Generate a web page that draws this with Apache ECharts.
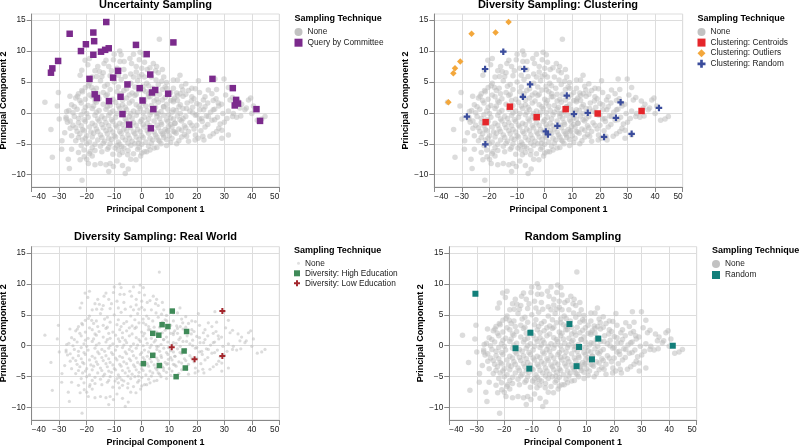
<!DOCTYPE html>
<html>
<head>
<meta charset="UTF-8">
<title>Sampling techniques</title>
<script src="https://cdn.jsdelivr.net/npm/echarts@6/dist/echarts.min.js"></script>
</head>
<body style="margin:0">
<div id="main" style="width:800px;height:447px;"></div>
<script type="text/javascript">
var xTicks = [-40, -30, -20, -10, 0, 10, 20, 30, 40, 50];
var yTicks = [-10, -5, 0, 5, 10, 15];

// all points of the data set (gray "None" layer, same in every panel)
var basePoints = [
  [-35.2,1.7],[-30.3,3.3],[-30.7,1.1],[-32.5,-7.2],[-29.1,-5.9],[-26.3,-9.0],[-26.7,-7.5],[-25.5,-5.9],
  [-26.1,2.7],[-27.3,0.2],[-27.5,-0.7],[-25.5,-3.7],[-23.4,2.7],[-21.8,3.6],[-21.7,-10.9],[-22.4,6.1],
  [-21.8,6.9],[-19.6,7.8],[-20.6,8.5],[-22.4,-7.6],[-20.9,-7.1],[-19.4,-8.2],[-18.8,-6.3],[-17.0,-8.4],
  [-13.0,-8.4],[-11.5,-8.2],[-10.3,-8.7],[-4.9,-9.1],[-5.1,-6.8],[-8.1,-6.8],[-7.3,-5.5],[-9.7,-5.7],
  [-2.1,-7.6],[-0.4,-7.0],[1.8,-6.3],[4.5,-5.7],[-1.2,-4.9],[6.4,11.9],[-0.6,9.8],[0.6,9.4],
  [-0.9,8.6],[-4.3,8.8],[-3.7,8.0],[-6.4,8.3],[-7.9,8.3],[-7.5,9.4],[-10.3,8.6],[-13.7,8.0],
  [-15.4,6.7],[-17.0,6.8],[-16.4,5.9],[-18.2,4.1],[-19.4,4.4],[5.4,7.5],[7.5,7.0],[4.2,8.0],
  [2.0,7.0],[11.5,5.3],[13.9,6.1],[20.6,5.2],[26.6,5.5],[29.9,5.5],[31.5,4.1],[27.2,3.8],
  [24.2,3.7],[27.8,1.6],[26.0,0.5],[24.2,-0.6],[28.5,-1.8],[29.1,-2.8],[27.2,-3.0],[31.5,-3.6],
  [29.1,-4.1],[24.8,-3.8],[22.6,-4.4],[22.2,-3.8],[19.4,-4.4],[16.3,-3.8],[12.7,-5.0],[33.3,-0.1],
  [35.7,0.8],[37.5,0.5],[38.8,2.1],[39.6,2.4],[40.6,1.1],[44.8,-0.6],[43.6,-1.0],[40.0,-0.1],
  [34.5,-0.7],[36.3,1.4],[32.1,2.1],[22.4,2.1],[20.0,1.5],[21.2,0.5],[18.2,2.6],[18.2,4.0],
  [14.9,3.7],[16.3,0.7],[20.0,-0.3],[21.8,-0.9],[18.2,-2.0],[13.9,-1.1],[14.5,-2.8],[11.5,-3.0],
  [9.7,-2.2],[12.1,-1.7],[7.2,-1.9],[7.9,-3.6],[6.0,-4.4],[9.1,-3.0],[9.7,-0.3],[11.5,0.5],
  [7.9,1.0],[5.4,-0.1],[11.5,2.1],[12.7,3.2],[11.5,4.0],[9.1,4.0],[7.2,5.1],[5.2,5.3],
  [1.8,4.8],[0.6,3.7],[2.4,2.6],[-14,6.5],[-11,6.8],[-9,7.2],[-16,7.5],[-19,8.8],
  [-13,8.5],[-10,9.5],[-8,10],[-3,9.5],[1,8.2],[3,7.3],[6,6.5],[8,5.8],
  [-1,5.9],[-4,6.3],[-2,6.6],[1,5.8],[-24,-4.5],[-26,-2.5],[-27,-1.5],[-20,-7.5],
  [-18,-7],[-15,-8.2],[-9,-7.8],[-7,-8.5],[-4,-7.5],[0,-6.5],[-6,-9.8],[-12,-9.5],
  [-33,-2.7],[-30,-1.0],[-29,-4.5],[-28,-3.2],[36,-0.5],[38,0.8],[42,-1.2],[33,2.5],
  [-19,4.8],[-15,5.2],[-12.5,4.6],[-10,5.0],[-7.5,5.4],[-4,4.8],[-1.5,5.2],[2.5,4.4],[6,4.6],[9,4.9],[13,5.3],[16,4.7],
  [-21.5,3.4],[-17.5,3.6],[-14,3.3],[-11.5,3.8],[-9,3.4],[-6.5,3.6],[-3.5,3.2],[-1,3.7],[1.5,3.4],[4.5,3.0],[7.5,3.8],[10.5,3.3],[14,3.1],[17,3.6],[21,3.3],
  [-24,2.4],[-20.5,2.2],[-18,2.6],[-15.5,2.3],[-13,2.8],[-10.5,2.2],[-8,2.6],[-5.5,2.4],[-2.5,2.8],[0,2.2],[3,2.6],[5.5,2.2],[8.5,2.5],[12,2.4],[15,2.7],[19,2.3],[23,2.6],[27,2.3],
  [-25.5,1.3],[-22,1.6],[-19.5,1.2],[-16.5,1.7],[-14,1.4],[-11.5,1.2],[-9.5,1.7],[-7,1.3],[-4.5,1.6],[-2,1.3],[0.5,1.6],[3.5,1.2],[6,1.7],[9,1.4],[11.5,1.8],[14,1.3],[16.5,1.6],[21,1.3],[24,1.6],[29,1.4],
  [-26.5,0.4],[-23.5,0.6],[-21,0.3],[-18,0.7],[-15.5,0.4],[-13,0.6],[-10.5,0.3],[-8,0.7],[-5.5,0.5],[-3,0.3],[-0.5,0.7],[2,0.4],[4.5,0.6],[7,0.2],[9.5,0.6],[12.5,0.4],[15,0.7],[17.5,0.3],[22.5,0.5],[26.5,0.6],[31.5,0.3],
  [-24.5,-0.6],[-22,-0.3],[-19.5,-0.7],[-17,-0.4],[-14.5,-0.6],[-12,-0.4],[-9.5,-0.7],[-7,-0.3],[-4.5,-0.6],[-2,-0.4],[1,-0.7],[3,-0.3],[5.5,-0.6],[8,-0.4],[10.5,-0.8],[13,-0.5],[16,-0.6],[19.5,-0.4],[23.5,-0.5],[27.5,-0.7],[33,-0.6],
  [-26,-1.3],[-23,-1.6],[-20.5,-1.4],[-18,-1.7],[-15.5,-1.3],[-13,-1.6],[-10.5,-1.4],[-8,-1.7],[-5.5,-1.3],[-3,-1.6],[-0.5,-1.4],[2,-1.7],[4.5,-1.3],[7,-1.6],[9.5,-1.4],[12,-1.7],[14.5,-1.3],[17.5,-1.6],[22,-1.4],[25.5,-1.2],[30,-1.5],
  [-24,-2.4],[-21.5,-2.7],[-19,-2.3],[-16.5,-2.6],[-14,-2.4],[-11.5,-2.7],[-9,-2.3],[-6.5,-2.6],[-4,-2.4],[-1.5,-2.7],[1,-2.3],[3.5,-2.6],[6,-2.4],[8.5,-2.7],[11,-2.3],[13.5,-2.6],[16,-2.4],[19,-2.6],[23,-2.3],[28,-2.5],
  [-22.5,-3.4],[-20,-3.7],[-17.5,-3.3],[-15,-3.6],[-12.5,-3.4],[-10,-3.7],[-7.5,-3.3],[-5,-3.6],[-2.5,-3.4],[0,-3.7],[2.5,-3.3],[5,-3.6],[7.5,-3.4],[10,-3.7],[12.5,-3.3],[15.5,-3.5],[19.5,-3.6],[26,-3.4],
  [-21.5,-4.4],[-19,-4.7],[-16,-4.4],[-13.5,-4.6],[-11,-4.3],[-8.5,-4.7],[-6,-4.4],[-3.5,-4.6],[-1,-4.3],[1.5,-4.7],[4,-4.4],[6.5,-4.6],[9,-4.3],[13.5,-4.5],[17,-4.6],
  [-22,-5.3],[-18,-5.6],[-15,-5.4],[-12,-5.6],[-9,-5.3],[-6.5,-5.7],[-4,-5.3],[-1,-5.6],[2.5,-5.4],[5.5,-5.6],[9,-5.3],
  [-23,-6.4],[-19,-6.6],[-14.5,-6.3],[-10.5,-6.7],[-7,-6.4],[-3,-6.6],[1,-6.3],
  [-20.5,4.1],[-16.5,4.0],[-13.5,4.3],[-8.5,4.2],[-5.5,3.9],[-2.5,4.2],[0.5,4.3],[4,4.0],[8.5,4.2],[14.5,4.3],[19.5,3.9],
  [-23,3.1],[-19,2.9],[-16,3.1],[-12.5,3.0],[-7.5,3.1],[-4.5,2.9],[-2,3.0],[2.5,3.1],[6.5,3.0],[9.5,2.9],[13,2.8],[16,3.0],[25.5,3.1],[30.5,2.9],
  [-22.5,2.0],[-17,1.9],[-12,2.0],[-7,2.1],[-3.5,1.9],[1,2.0],[4.5,1.9],[7.5,2.1],[10.5,2.0],[13,2.0],[18,1.9],[26,2.0],[35,1.9],
  [-24.5,1.0],[-20.5,0.9],[-17.5,1.1],[-12.5,1.0],[-8.5,1.1],[-6,0.9],[-1,1.0],[1.5,1.1],[5,0.9],[8,1.0],[13.5,1.0],[18.5,0.9],[23,1.0],[28,1.1],
  [-25,0.0],[-20,-0.1],[-16.5,0.1],[-11.5,0.0],[-9,-0.1],[-6.5,0.1],[-4,-0.1],[-1.5,0.1],[0.5,0.0],[3.5,0.1],[6,-0.1],[11,0.1],[14,-0.1],[18.5,0.0],[25,0.1],[29.5,-0.1],
  [-27.5,-1.0],[-23,-0.9],[-21,-1.1],[-16,-1.0],[-13.5,-0.9],[-11,-1.1],[-6,-1.0],[-3.5,-0.9],[0,-1.1],[2.5,-1.0],[6.5,-0.9],[9,-1.1],[11.5,-1.0],[15,-0.9],[21,-1.0],[26.5,-1.1],[31,-0.9],
  [-25,-2.0],[-22,-2.1],[-17,-2.0],[-14.5,-1.9],[-12,-2.1],[-9.5,-2.0],[-7,-1.9],[-4.5,-2.1],[-2,-2.0],[0.5,-1.9],[3,-2.1],[5.5,-2.0],[10.5,-1.9],[15.5,-2.1],[20,-2.0],[24,-1.9],
  [-23.5,-3.0],[-21,-2.9],[-18.5,-3.1],[-16,-3.0],[-13,-2.9],[-10.5,-3.1],[-8,-3.0],[-5.5,-2.9],[-3,-3.1],[-0.5,-3.0],[2,-2.9],[4.5,-3.1],[7,-3.0],[9.5,-2.9],[12,-3.1],[17,-3.0],[21.5,-2.9],
  [-23,-4.0],[-20.5,-4.1],[-18,-3.9],[-14.5,-4.0],[-12,-4.1],[-9.5,-3.9],[-7,-4.0],[-4.5,-4.1],[-2,-3.9],[0.5,-4.0],[3,-4.1],[5.5,-3.9],[8,-4.0],[11,-4.1],[14.5,-3.9],[20.5,-4.1],
  [-20,-5.0],[-17,-5.1],[-14,-4.9],[-11.5,-5.0],[-8,-5.1],[-5,-4.9],[-2.5,-5.0],[0,-5.1],[3.5,-4.9],[7,-5.0],[10.5,-4.8],
  [-21,-6.0],[-17,-6.1],[-12.5,-5.9],[-8.5,-6.0],[-5,-6.1],[-1.5,-5.9],[3,-6.0],
  [-18,5.8],[-14.5,5.9],[-11.5,6.0],[-8.5,6.1],[-6,5.9],[-3,5.8],[0,6.2],[3.5,5.8],[5,6.8],[-12,7.5],[-6.5,7.0],[-2,7.5],[0,7.2]
];

var queryByCommittee = [
  [-33.0,6.5],[-32.5,7.2],[-30.4,8.4],[-26.2,12.8],[-22.1,10.0],[-20.3,11.1],[-17.6,13.0],[-17.3,11.6],
  [-17.6,9.4],[-12.9,14.7],[-14.8,9.9],[-13.3,10.2],[-12.0,10.45],[-2.1,11.0],[1.8,9.5],[11.5,11.4],
  [-19.0,5.5],[-8.6,6.8],[-10.4,5.7],[-5.2,4.6],[-0.75,4.0],[3.1,6.2],[3.7,3.3],[4.9,3.7],
  [9.6,3.1],[-17.1,3.0],[-16.3,2.4],[-11.9,1.9],[-7.7,2.6],[0.3,2.0],[-7.0,-0.2],[-4.6,-1.9],
  [3.3,-2.5],[4.2,0.6],[25.7,5.5],[33.1,4.0],[34.3,2.1],[35.0,1.5],[33.8,1.2],[41.7,0.6],[43.0,-1.3]
];
var clusterCentroids = [[-21.4,-1.5],[-12.6,1.0],[-2.9,-0.7],[7.6,0.6],[19.2,-0.1],[35.1,0.3]];
var clusterOutliers = [[-34.9,1.7],[-33.1,6.4],[-32.5,7.2],[-30.6,8.3],[-26.5,12.8],[-17.8,13.0],[-13.1,14.7]];
var clusterRandom = [
  [-28.2,-0.6],[-21.5,-5.1],[-21.6,7.1],[-15.0,9.9],[-7.4,7.1],[-5.3,4.6],[-7.9,2.6],[8.0,2.8],[0.4,-3.0],
  [1.2,-3.5],[4.6,-2.1],[10.6,-0.2],[15.6,0.0],[25.8,-0.8],[27.5,1.7],[21.5,-3.9],[31.5,-3.4],[41.4,0.8]
];
var highEducation = [
  [11.1,5.6],[7.4,3.4],[9.5,3.1],[4.0,2.0],[6.2,1.7],[16.3,2.3],[4.0,-1.55],[0.6,-2.9],
  [6.4,-3.2],[15.4,-0.85],[15.85,-3.6],[12.5,-5.0]
];
var lowEducation = [[29.3,5.6],[10.9,-0.25],[19.2,-2.2],[29.3,-1.65]];
var randomSample = [
  [-30.5,8.4],[-10.5,2.1],[-15.9,-0.4],[-10.9,-3.7],[3.7,3.5],[7.2,-0.2],[6.3,-3.3],[11.9,-2.2],[14.2,1.15],[41.3,0.0]
];

var cross = 'path://M0,3H3V0H6V3H9V6H6V9H3V6H0Z';
var gray = '#b9b9b9';
var font = 'Liberation Sans, Arial, sans-serif';

var panels = [
  {title: 'Uncertainty Sampling', left: 31.7, top: 14, width: 247.6, height: 173, cx: 155.5, ty: -1.5, lx: 294.5, ly: 27, lty: 13.3},
  {title: 'Diversity Sampling: Clustering', left: 434.3, top: 14, width: 248.4, height: 173, cx: 558, ty: -1.5, lx: 697.5, ly: 27, lty: 13.3},
  {title: 'Diversity Sampling: Real World', left: 31.7, top: 246.7, width: 247.6, height: 173.3, cx: 155.5, ty: 230.5, lx: 294, ly: 258.3, lty: 246},
  {title: 'Random Sampling', left: 449.3, top: 246.7, width: 247.4, height: 173.3, cx: 573, ty: 230.5, lx: 712, ly: 259, lty: 246}
];

function minus(v) { return String(v).replace('-', '\u2212'); }

var grids = [], xAxes = [], yAxes = [], titles = [];
panels.forEach(function (p, i) {
  grids.push({left: p.left, top: p.top, width: p.width, height: p.height, show: true,
    borderColor: '#dddddd', borderWidth: 1, outerBoundsMode: 'none', containLabel: false});
  xAxes.push({
    gridIndex: i, type: 'value', min: -40, max: 50, interval: 10,
    name: 'Principal Component 1', nameLocation: 'middle', nameGap: 18,
    nameTextStyle: {fontFamily: font, fontSize: 9, fontWeight: 'bold', color: '#000'},
    axisLine: {show: true, onZero: false, lineStyle: {color: '#888', width: 1}},
    axisTick: {show: true, length: 5, lineStyle: {color: '#888'}},
    axisLabel: {fontFamily: font, fontSize: 8.3, color: '#222', margin: 6, formatter: minus,
      alignMinLabel: 'left', alignMaxLabel: 'right'},
    splitLine: {show: true, lineStyle: {color: '#dddddd', width: 1}}
  });
  yAxes.push({
    gridIndex: i, type: 'value', min: -12, max: 16,
    name: 'Principal Component 2', nameLocation: 'middle', nameGap: 23,
    nameTextStyle: {fontFamily: font, fontSize: 9, fontWeight: 'bold', color: '#000'},
    axisLine: {show: true, onZero: false, lineStyle: {color: '#888', width: 1}},
    axisTick: {show: true, length: 5, lineStyle: {color: '#888'}, customValues: yTicks},
    axisLabel: {fontFamily: font, fontSize: 8.3, color: '#222', margin: 6, formatter: minus, customValues: yTicks},
    splitLine: {show: true, lineStyle: {color: '#dddddd', width: 1}}
  });
  titles.push({text: p.title, left: p.cx, top: p.ty, textAlign: 'center', padding: 0,
    textStyle: {fontFamily: font, fontSize: 11, fontWeight: 'bold', color: '#000', lineHeight: 13}});
  titles.push({text: 'Sampling Technique', left: p.lx, top: p.lty, padding: 0,
    textStyle: {fontFamily: font, fontSize: 9, fontWeight: 'bold', color: '#000', lineHeight: 10}});
});

function noneSeries(i, size) {
  return {name: 'None', type: 'scatter', xAxisIndex: i, yAxisIndex: i, data: basePoints,
    symbol: 'circle', symbolSize: size, itemStyle: {color: gray, opacity: 0.5}, z: 1};
}
function markSeries(name, i, data, symbol, size, color) {
  return {name: name, type: 'scatter', xAxisIndex: i, yAxisIndex: i, data: data,
    symbol: symbol, symbolSize: size, itemStyle: {color: color, opacity: 1}, z: 3};
}

var purple = '#7b2a8c', red = '#e5262b', orange = '#f3a73b', blue = '#3a4c9c',
    green = '#3f8a58', darkRed = '#a3262c', teal = '#127f7a';

var series = [
  noneSeries(0, 5.5),
  markSeries('Query by Committee', 0, queryByCommittee, 'rect', 6.5, purple),
  noneSeries(1, 5.5),
  markSeries('Clustering: Centroids', 1, clusterCentroids, 'rect', 6.5, red),
  markSeries('Clustering: Outliers', 1, clusterOutliers, 'diamond', 6.5, orange),
  markSeries('Clustering: Random', 1, clusterRandom, cross, 6.5, blue),
  noneSeries(2, 3.2),
  markSeries('Diversity: High Education', 2, highEducation, 'rect', 5.5, green),
  markSeries('Diversity: Low Education', 2, lowEducation, cross, 6, darkRed),
  noneSeries(3, 5.5),
  markSeries('Random', 3, randomSample, 'rect', 6, teal)
];

function legend(left, top, size, items, gap) {
  return {orient: 'vertical', left: left, top: top, padding: 0, itemWidth: size, itemHeight: size,
    itemGap: gap, selectedMode: false,
    textStyle: {fontFamily: font, fontSize: 8.3, color: '#222', lineHeight: 10},
    data: items};
}
var noneItem = {name: 'None', icon: 'circle', itemStyle: {color: '#c2c2c2', opacity: 1}};

var legends = [
  legend(panels[0].lx, panels[0].ly, 8, [noneItem,
    {name: 'Query by Committee', icon: 'rect', itemStyle: {color: purple}}], 0.7),
  legend(panels[1].lx, panels[1].ly, 8, [noneItem,
    {name: 'Clustering: Centroids', icon: 'rect', itemStyle: {color: red}},
    {name: 'Clustering: Outliers', icon: 'diamond', itemStyle: {color: orange}},
    {name: 'Clustering: Random', icon: cross, itemStyle: {color: blue}}], 0.6),
  legend(panels[2].lx + 3, panels[2].ly, 3, [{name: 'None', icon: 'circle', itemStyle: {color: '#c2c2c2'}}], 0),
  legend(panels[2].lx, panels[2].ly + 10, 6, [
    {name: 'Diversity: High Education', icon: 'rect', itemStyle: {color: green}},
    {name: 'Diversity: Low Education', icon: cross, itemStyle: {color: darkRed}}], 0),
  legend(panels[3].lx, panels[3].ly, 8, [noneItem,
    {name: 'Random', icon: 'rect', itemStyle: {color: teal}}], 1)
];

var myChart = echarts.init(document.getElementById('main'));
myChart.setOption({
  animation: false,
  backgroundColor: '#ffffff',
  title: titles,
  grid: grids,
  xAxis: xAxes,
  yAxis: yAxes,
  legend: legends,
  series: series
});
</script>
</body>
</html>
